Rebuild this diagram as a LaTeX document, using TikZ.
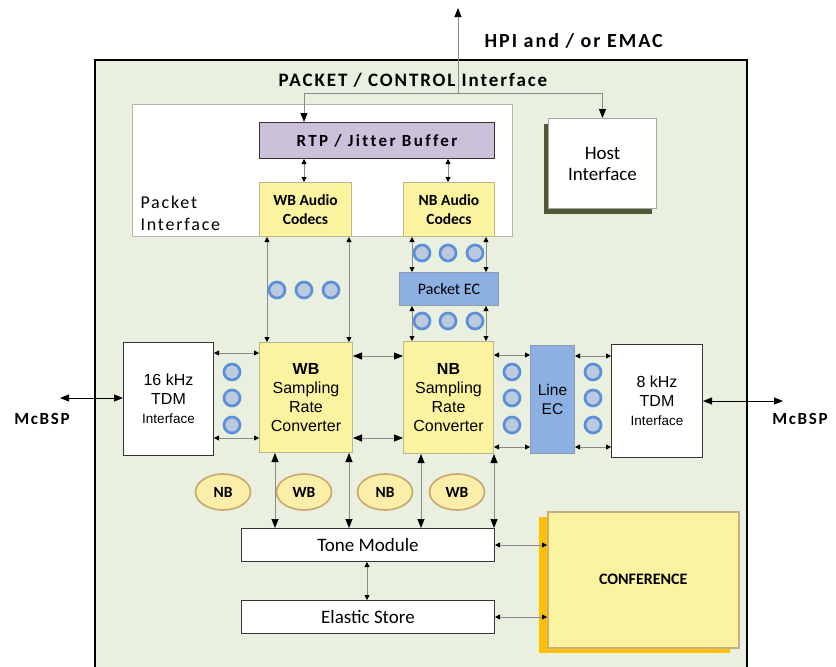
\documentclass[tikz,border=0pt]{standalone}
\usepackage{fontspec}
\setmainfont{Carlito}
\newfontfamily\arialfont{Liberation Sans}
\newfontfamily\spacedfont[LetterSpace=10, Ligatures=NoCommon]{Carlito}
\newfontfamily\widefont[LetterSpace=14, Ligatures=NoCommon]{Carlito}
\usetikzlibrary{calc,arrows.meta,shapes.geometric,shadows}

\definecolor{panelgreen}{HTML}{E9F0DF}
\definecolor{codecyellow}{HTML}{FCF3A0}
\definecolor{yellowedge}{HTML}{BDB58C}
\definecolor{rtplav}{HTML}{CCC1DA}
\definecolor{ecblue}{HTML}{8DB0E3}
\definecolor{ecedge}{HTML}{8C9BB0}
\definecolor{dotblue}{HTML}{5B8FD9}
\definecolor{dotfill}{HTML}{BCCADF}
\definecolor{ovalfill}{HTML}{FAEEA8}
\definecolor{ovaledge}{HTML}{C9A66B}
\definecolor{hostshadow}{HTML}{4E5A35}
\definecolor{confshadow}{HTML}{FFC000}
\definecolor{confedge}{HTML}{C8AE80}
\definecolor{linegray}{HTML}{8A8A8A}
\definecolor{boxedge}{HTML}{333333}

\tikzset{
  blk/.style={draw=boxedge, line width=1pt, inner sep=0pt, anchor=north west, align=center, text=black},
  ybox/.style={blk, draw=yellowedge, fill=codecyellow},
  ebox/.style={blk, draw=ecedge, fill=ecblue},
  wbox/.style={blk, fill=white},
  dot/.style={circle, draw=dotblue, line width=2.7pt, fill=dotfill, minimum size=16pt, inner sep=0pt},
  oval/.style={ellipse, draw=ovaledge, line width=1.6pt, fill=ovalfill, minimum width=55pt, minimum height=36pt, inner sep=0pt, font=\fontsize{15.5}{18}\selectfont\bfseries},
  tip/.tip={Triangle[length=5pt, width=5pt, color=black]},
  bigtip/.tip={Triangle[length=9pt, width=7pt, color=black]},
  link/.style={draw=linegray, line width=0.8pt, tip-tip},
  biglink/.style={draw=linegray, line width=0.8pt, bigtip-bigtip},
}

\begin{document}
\begin{tikzpicture}[x=1pt, y=-1pt]
    \clip (0,0) rectangle (836,667);

    % outer panel
    \draw[fill=panelgreen, line width=2pt] (95,60) rectangle (747,700);

    % packet side
    \node[blk, draw=gray!60, fill=white, minimum width=380pt, minimum height=132pt] (pktif) at (132,104) {};
    \node[anchor=west, align=left, font=\spacedfont\fontsize{18}{22}\selectfont] (pktlbl) at (137,213) {Packet\\Interface};
    \node[blk, fill=rtplav, minimum width=235pt, minimum height=36pt, font=\widefont\fontsize{17}{20}\selectfont\bfseries] (rtp) at (259,122) {RTP / Jitter Buffer};
    \node[ybox, minimum width=92pt, minimum height=54pt, font=\fontsize{15.5}{19}\selectfont\bfseries] (wbcod) at (259,182) {WB Audio\\Codecs};
    \node[ybox, minimum width=91pt, minimum height=54pt, font=\fontsize{15.5}{19}\selectfont\bfseries] (nbcod) at (403,182) {NB Audio\\Codecs};
    \node[wbox, draw=gray!70, minimum width=108pt, minimum height=90pt, font=\fontsize{19}{21}\selectfont,
          drop shadow={shadow xshift=-5pt, shadow yshift=-5pt, fill=hostshadow, opacity=1}] (host) at (548,118) {Host\\Interface};
    \node[ebox, minimum width=99pt, minimum height=33pt, font=\fontsize{16}{19}\selectfont] (pktec) at (399,272) {Packet EC};

    % TDM side
    \node[wbox, minimum width=90pt, minimum height=113pt, font=\arialfont\fontsize{16}{19}\selectfont] (tdmwb) at (123,342) {16 kHz\\TDM\\{\fontsize{13.5}{16}\selectfont Interface}};
    \node[ybox, minimum width=93pt, minimum height=110pt, font=\arialfont\fontsize{16}{19}\selectfont] (wbsrc) at (259,342) {\textbf{WB}\\Sampling\\Rate\\Converter};
    \node[ybox, minimum width=90pt, minimum height=112pt, font=\arialfont\fontsize{16}{19}\selectfont] (nbsrc) at (403,341) {\textbf{NB}\\Sampling\\Rate\\Converter};
    \node[ebox, minimum width=44pt, minimum height=108pt, font=\arialfont\fontsize{15.5}{19}\selectfont] (lineec) at (530,345) {Line\\EC};
    \node[wbox, minimum width=91pt, minimum height=113pt, font=\arialfont\fontsize{16}{19}\selectfont] (tdmnb) at (611,344) {8 kHz\\TDM\\{\fontsize{13.5}{16}\selectfont Interface}};

    % tone, store and conference
    \node[wbox, minimum width=253pt, minimum height=33pt, font=\fontsize{19}{22}\selectfont] (tone) at (241,528) {Tone Module};
    \node[wbox, minimum width=253pt, minimum height=33pt, font=\fontsize{19}{22}\selectfont] (store) at (241,600) {Elastic Store};
    \node[ybox, draw=confedge, line width=1.5pt, minimum width=191pt, minimum height=136pt, font=\fontsize{16}{19}\selectfont\bfseries,
          drop shadow={shadow xshift=-9pt, shadow yshift=-5pt, fill=confshadow, opacity=1}] (conf) at (547,511) {CONFERENCE};

    % channel dots
    \foreach \i/\x in {1/277,2/304,3/331} \node[dot] (wbdot\i) at (\x,290) {};
    \foreach \i/\x in {1/422,2/448,3/475} {
        \node[dot] (ecup\i) at (\x,253) {};
        \node[dot] (eclow\i) at (\x,321) {};
    }
    \foreach \i/\y in {1/372,2/398,3/425} {
        \node[dot] (tdmdot\i) at (232,\y) {};
        \node[dot] (srcdot\i) at (512,\y) {};
        \node[dot] (linedot\i) at (593,\y) {};
    }

    % band tags
    \node[oval] (tag1) at (223,492) {NB};
    \node[oval] (tag2) at (304,492) {WB};
    \node[oval] (tag3) at (385,492) {NB};
    \node[oval] (tag4) at (457,492) {WB};

    % host path
    \coordinate (hpi) at (458,8);
    \coordinate (split) at (458,93);
    \draw[draw=linegray, line width=0.8pt, -bigtip] (split) -- (hpi);
    \draw[draw=linegray, line width=0.8pt, -bigtip] (split) -| ($(rtp.north west)+(45,0)$);
    \draw[draw=linegray, line width=0.8pt, -bigtip] (split) -| (host.north);

    % vertical links
    \draw[link] ($(rtp.south west)+(45,0)$) coordinate (p) -- (p |- wbcod.north);
    \draw[link] ($(rtp.south west)+(189,0)$) coordinate (p) -- (p |- nbcod.north);
    \draw[link] ($(wbcod.south west)+(8,0)$) coordinate (p) -- (p |- wbsrc.north);
    \draw[link] ($(wbcod.south west)+(90,0)$) coordinate (p) -- (p |- wbsrc.north);
    \draw[link] ($(nbcod.south west)+(9,0)$) coordinate (p) -- (p |- pktec.north);
    \draw[link] ($(nbcod.south west)+(83,0)$) coordinate (p) -- (p |- pktec.north);
    \draw[link] ($(pktec.south west)+(13,0)$) coordinate (p) -- (p |- nbsrc.north);
    \draw[link] ($(pktec.south west)+(87,0)$) coordinate (p) -- (p |- nbsrc.north);

    % horizontal links
    \draw[link] ($(tdmwb.north east)+(0,11)$) coordinate (p) -- (p -| wbsrc.west);
    \draw[link] ($(tdmwb.north east)+(0,96)$) coordinate (p) -- (p -| wbsrc.west);
    \draw[biglink] ($(wbsrc.north east)+(0,14)$) coordinate (p) -- (p -| nbsrc.west);
    \draw[biglink] ($(wbsrc.north east)+(0,96)$) coordinate (p) -- (p -| nbsrc.west);
    \draw[link] ($(nbsrc.north east)+(0,14)$) coordinate (p) -- (p -| lineec.west);
    \draw[link] ($(nbsrc.north east)+(0,106)$) coordinate (p) -- (p -| lineec.west);
    \draw[link] ($(lineec.north east)+(0,11)$) coordinate (p) -- (p -| tdmnb.west);
    \draw[link] ($(lineec.north east)+(0,102)$) coordinate (p) -- (p -| tdmnb.west);

    % down to the tone module
    \draw[biglink] ($(wbsrc.south west)+(16,0)$) coordinate (p) -- (p |- tone.north);
    \draw[biglink] ($(wbsrc.south west)+(90,0)$) coordinate (p) -- (p |- tone.north);
    \draw[biglink] ($(nbsrc.south west)+(18,0)$) coordinate (p) -- (p |- tone.north);
    \draw[biglink] (nbsrc.south east) -- (nbsrc.south east |- tone.north);
    \draw[link] ($(tone.south west)+(126,0)$) coordinate (p) -- (p |- store.north);
    \draw[link] (tone.east) -- (tone.east -| conf.west);
    \draw[link] (store.east) -- (store.east -| conf.west);

    % serial ports
    \coordinate (mcl) at (60,398);
    \coordinate (mcr) at (783,401);
    \draw[line width=1pt, bigtip-bigtip] (mcl) -- (mcl -| tdmwb.west);
    \draw[line width=1pt, bigtip-bigtip] (tdmnb.east |- mcr) -- (mcr);

    % labels
    \node[font=\spacedfont\fontsize{20}{24}\selectfont\bfseries, anchor=west] (hpilbl) at (481,41) {HPI and / or EMAC};
    \node[font=\spacedfont\fontsize{19}{22}\selectfont\bfseries] (ctrllbl) at (413,80) {PACKET / CONTROL Interface};
    \node[font=\spacedfont\fontsize{17}{20}\selectfont\bfseries] (mcbspl) at (42,419) {McBSP};
    \node[font=\spacedfont\fontsize{17}{20}\selectfont\bfseries] (mcbspr) at (800,419) {McBSP};
\end{tikzpicture}
\end{document}
